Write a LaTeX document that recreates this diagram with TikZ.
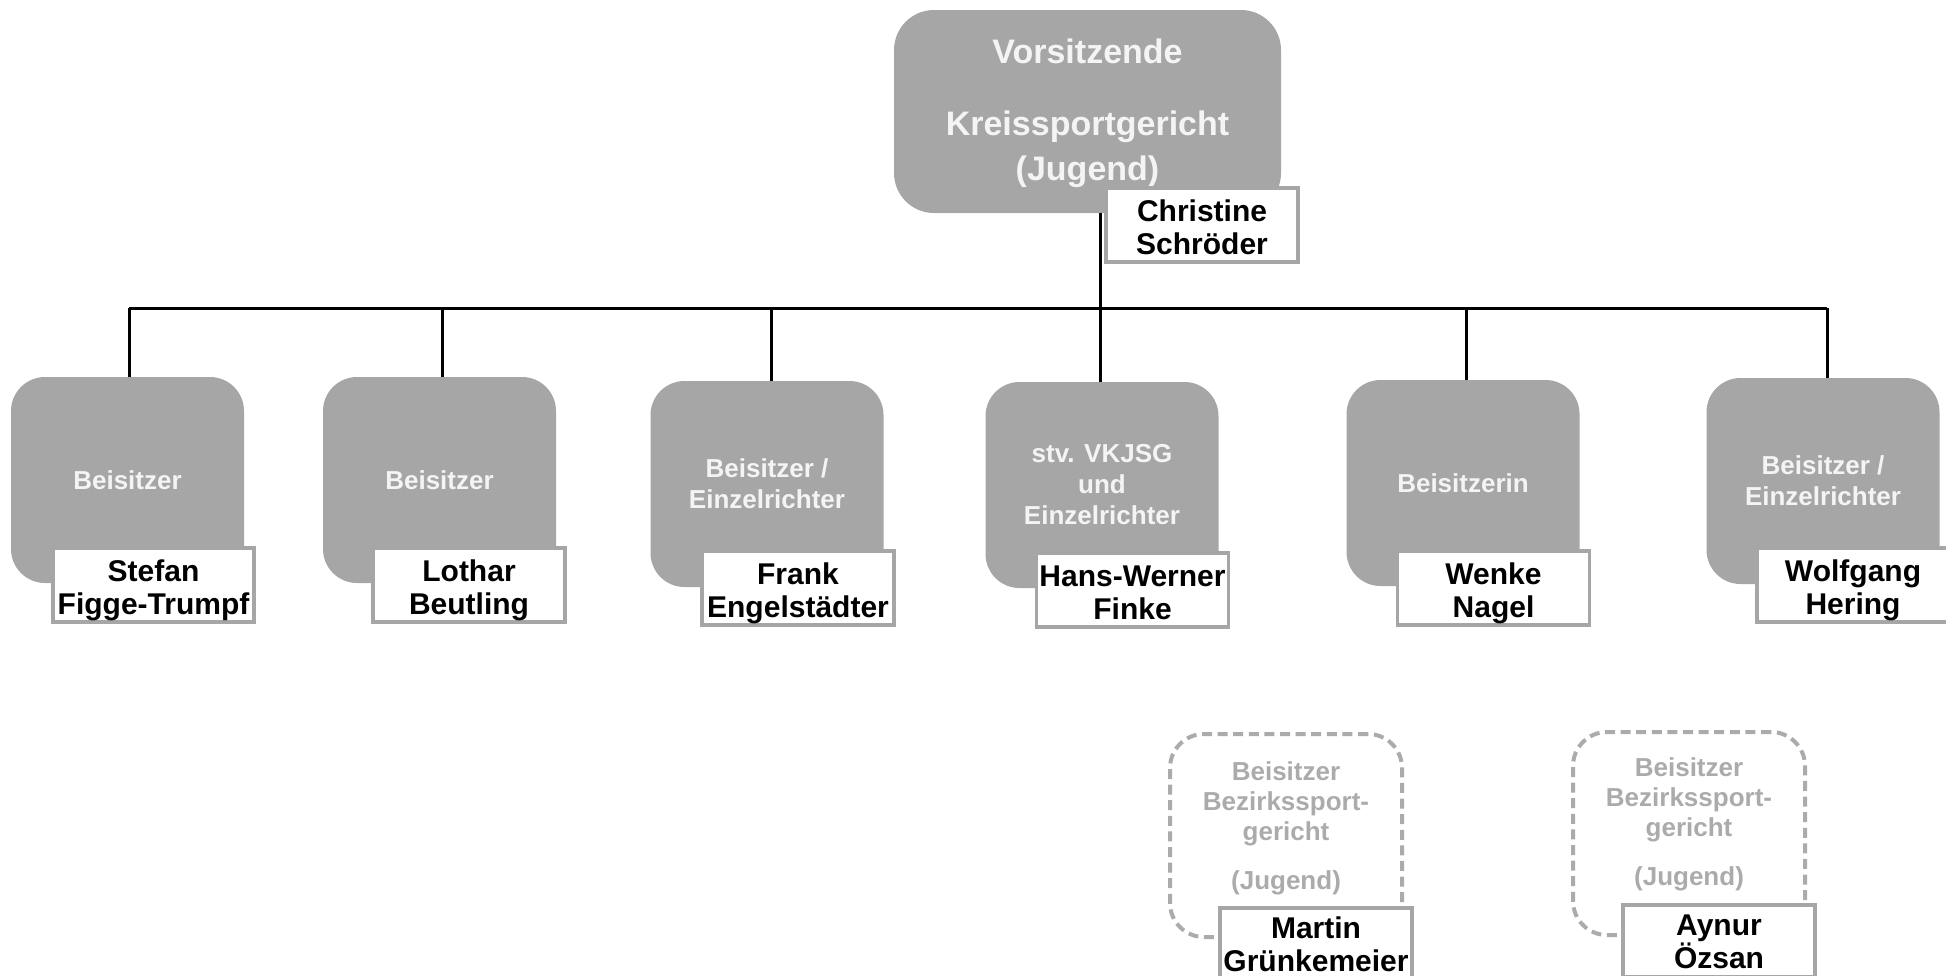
\documentclass[tikz,border=0pt]{standalone}
\usepackage{fontspec}
\setmainfont{Liberation Sans}
\definecolor{boxgray}{HTML}{A6A6A6}
\definecolor{dashgray}{HTML}{ABABAB}
\definecolor{softwhite}{HTML}{F4F4F4}
\newcommand\twonames[3][16.8pt]{\rule{0pt}{#1}#2\\#3\rule[-3.5pt]{0pt}{3.5pt}}
\tikzset{
  graybox/.style={fill=boxgray, rounded corners=17pt, minimum width=116.5pt, minimum height=103pt,
    text=softwhite, font=\fontsize{13}{15.5}\selectfont\bfseries, align=center, inner sep=0pt},
  topbox/.style={fill=boxgray, rounded corners=20pt, minimum width=193.5pt, minimum height=101.5pt,
    text=softwhite, font=\fontsize{17}{22.5}\selectfont\bfseries, align=center, inner sep=0pt},
  namebox/.style={draw=boxgray, line width=1.8pt, fill=white, minimum width=96pt, minimum height=36pt,
    text=black, font=\fontsize{15}{16.5}\selectfont\bfseries, align=center, inner sep=0pt},
  dashbox/.style={draw=dashgray, line width=2pt, dash pattern=on 5pt off 2.8pt, rounded corners=17pt,
    minimum width=116pt, minimum height=101.5pt, inner sep=0pt},
  dashtext/.style={text=dashgray, font=\fontsize{13}{15}\selectfont\bfseries, align=center, inner sep=0pt},
  conn/.style={line width=1.5pt, black}
}
\begin{document}
\begin{tikzpicture}[x=0.5pt, y=-0.5pt]
\useasboundingbox (0,0) rectangle (1946,975);
% top
\node[topbox] (top) at (1087.5,111.5) {\rule{0pt}{14.4pt}Vorsitzende\\[13.5pt]Kreissportgericht\\(Jugend)};
\node[namebox] (ntop) at (1202,225) {\twonames{Christine}{Schröder}};
% second row
\node[graybox] (b1) at (127.5,480) {Beisitzer};
\node[graybox] (b2) at (439.5,480) {Beisitzer};
\node[graybox] (b3) at (767,484) {Beisitzer /\\Einzelrichter};
\node[graybox] (b4) at (1102,485) {stv. VKJSG\\und\\Einzelrichter};
\node[graybox] (b5) at (1463,483) {Beisitzerin};
\node[graybox] (b6) at (1823,481) {Beisitzer /\\Einzelrichter};
\node[namebox, minimum width=100.5pt] (n1) at (153.5,585) {\twonames{Stefan}{Figge-Trumpf}};
\node[namebox] (n2) at (469,585) {\twonames{Lothar}{Beutling}};
\node[namebox] (n3) at (798,588) {\twonames{Frank}{Engelstädter}};
\node[namebox] (n4) at (1132.5,590) {\twonames{Hans-Werner}{Finke}};
\node[namebox] (n5) at (1493.5,588) {\twonames{Wenke}{Nagel}};
\node[namebox] (n6) at (1853,585) {\twonames{Wolfgang}{Hering}};
% connector anchors (the drops sit slightly off the box centres)
\coordinate (bus) at (0,308);
\coordinate (c1) at ([xshift=0.75pt]b1.north);
\coordinate (c2) at ([xshift=1.25pt]b2.north);
\coordinate (c3) at ([xshift=2pt]b3.north);
\coordinate (c4) at ([xshift=-1pt]b4.north);
\coordinate (c5) at ([xshift=1.5pt]b5.north);
\coordinate (c6) at ([xshift=2pt]b6.north);
\draw[conn] (c4) -- (c4 |- top.south);
\draw[conn] (c1 |- bus) -- (c6 |- bus);
\foreach \c in {c1,c2,c3,c5,c6}{
  \draw[conn] (\c) -- (\c |- bus);
}
% dashed boxes
\node[dashbox] (d1) at (1286,835.5) {};
\node[dashtext] (t1) at (1286,828.5) {Beisitzer\\Bezirkssport-\\gericht\\[9.5pt](Jugend)};
\node[namebox] (m1) at (1316,944) {\twonames[14.3pt]{Martin}{Grünkemeier}};
\node[dashbox] (d2) at (1689,833.5) {};
\node[dashtext] (t2) at (1689,824.5) {Beisitzer\\Bezirkssport-\\gericht\\[9.5pt](Jugend)};
\node[namebox] (m2) at (1719,941) {\twonames[14.3pt]{Aynur}{Özsan}};
\end{tikzpicture}
\end{document}
